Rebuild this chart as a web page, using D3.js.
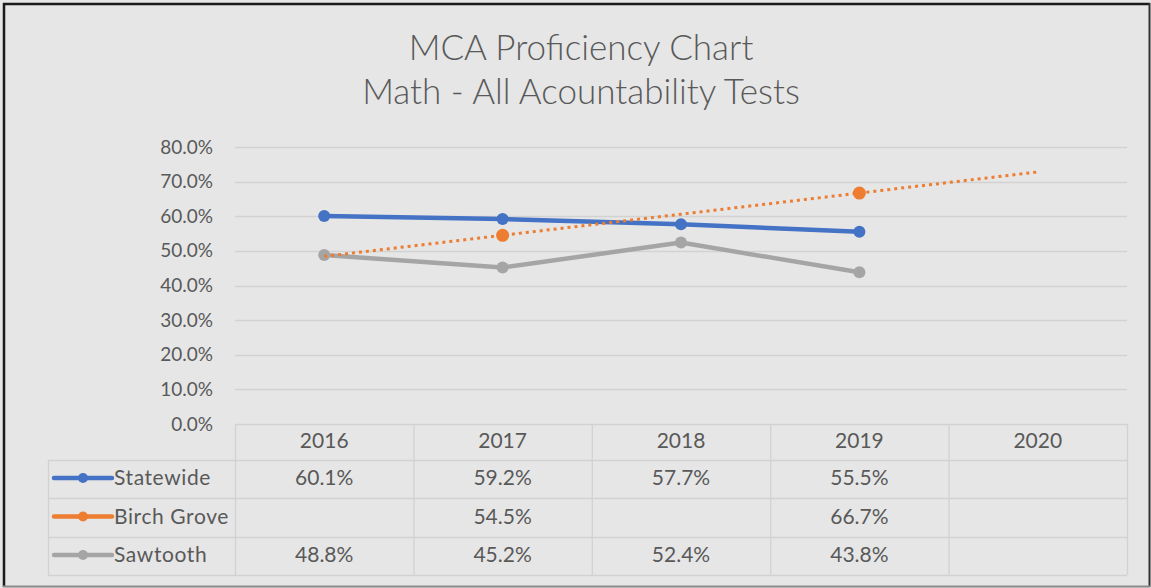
<!DOCTYPE html>
<html>
<head>
<meta charset="utf-8">
<script src="https://cdn.jsdelivr.net/npm/d3@7"></script>
<style>
  html, body { margin: 0; padding: 0; background: #e6e6e6; }
  svg { display: block; }
  text { font-family: Lato, "Open Sans", sans-serif; fill: #595959; }
</style>
</head>
<body>
<svg id="chart" width="1151" height="588"></svg>
<script>
const titleLines = ["MCA Proficiency Chart", "Math - All Acountability Tests"];
const years = ["2016", "2017", "2018", "2019", "2020"];
const seriesNames = ["Statewide", "Birch Grove", "Sawtooth"];
const statewide = [0.601, 0.592, 0.577, 0.555, null];
const birchGrove = [null, 0.545, null, 0.667, null];
const sawtooth = [0.488, 0.452, 0.524, 0.438, null];
const yTicks = [0, 0.1, 0.2, 0.3, 0.4, 0.5, 0.6, 0.7, 0.8];
const colors = ["#4472C4", "#ED7D31", "#A5A5A5"];

const seriesValues = [statewide, birchGrove, sawtooth];
const svg = d3.select("#chart");
const W = 1151, H = 588;

svg.append("rect").attr("x", 0).attr("y", 0).attr("width", W).attr("height", H).attr("fill", "#e6e6e6");

// frame
svg.append("line").attr("x1", 4).attr("y1", 3).attr("x2", 4).attr("y2", 587).attr("stroke", "#1a1a1a").attr("stroke-width", 2.5);
svg.append("line").attr("x1", 3).attr("y1", 4).attr("x2", 1150).attr("y2", 4).attr("stroke", "#1a1a1a").attr("stroke-width", 2.5);
svg.append("line").attr("x1", 1149.5).attr("y1", 3).attr("x2", 1149.5).attr("y2", 587).attr("stroke", "#333").attr("stroke-width", 2);
svg.append("line").attr("x1", 3).attr("y1", 586.5).attr("x2", 1150).attr("y2", 586.5).attr("stroke", "#8a8a8a").attr("stroke-width", 2);

// title
svg.selectAll("text.title").data(titleLines).join("text")
  .attr("class", "title")
  .attr("x", 581).attr("y", (d, i) => 60 + i * 44)
  .attr("text-anchor", "middle")
  .style("font-size", "35px").style("font-weight", 300)
  .text(d => d);

const x = d3.scaleBand().domain(years).range([235, 1127]).paddingInner(0).paddingOuter(0);
const y = d3.scaleLinear().domain([0, 0.8]).range([424, 147]);
const cx = d => x(d) + x.bandwidth() / 2;

// gridlines
svg.append("g").selectAll("line").data(yTicks.slice(1)).join("line")
  .attr("x1", 235).attr("x2", 1127)
  .attr("y1", d => Math.round(y(d)) + 0.5).attr("y2", d => Math.round(y(d)) + 0.5)
  .attr("stroke", "#d2d2d2").attr("stroke-width", 1.3);

// y axis labels
const yAxis = d3.axisLeft(y).tickValues(yTicks).tickFormat(d3.format(".1%")).tickSize(0).tickPadding(0);
const yg = svg.append("g").attr("transform", "translate(213,0)").call(yAxis);
yg.select(".domain").remove();
yg.selectAll("text").style("font-size", "19px").style("font-family", "Lato, 'Open Sans', sans-serif").attr("fill", "#595959");

// data table
const tableLines = svg.append("g").attr("stroke", "#d2d2d2").attr("stroke-width", 1.3);
const rowY = [424, 460, 498, 537, 575];
tableLines.append("line").attr("x1", 235).attr("x2", 1127).attr("y1", rowY[0] + 0.5).attr("y2", rowY[0] + 0.5);
rowY.slice(1).forEach(ry => {
  tableLines.append("line").attr("x1", 48).attr("x2", 1127).attr("y1", ry + 0.5).attr("y2", ry + 0.5);
});
years.forEach(yr => {
  tableLines.append("line").attr("x1", x(yr) + 0.5).attr("x2", x(yr) + 0.5).attr("y1", 424).attr("y2", 575);
});
tableLines.append("line").attr("x1", 1127.5).attr("x2", 1127.5).attr("y1", 424).attr("y2", 575);
tableLines.append("line").attr("x1", 48.5).attr("x2", 48.5).attr("y1", 460).attr("y2", 575);

// header (x axis)
const xAxis = d3.axisBottom(x).tickSize(0).tickPadding(0);
const xg = svg.append("g").attr("transform", "translate(0,441)").call(xAxis);
xg.select(".domain").remove();
xg.selectAll("text").attr("dy", "0.32em").style("font-size", "21px").style("font-family", "Lato, 'Open Sans', sans-serif").attr("fill", "#595959");

const fmt = d3.format(".1%");
seriesNames.forEach((name, si) => {
  const cy = (rowY[si + 1] + rowY[si + 2]) / 2 - 1;
  const lg = svg.append("g");
  lg.append("line").attr("x1", 54).attr("x2", 112).attr("y1", cy).attr("y2", cy)
    .attr("stroke", colors[si]).attr("stroke-width", 4.5).attr("stroke-linecap", "round");
  lg.append("circle").attr("cx", 83).attr("cy", cy).attr("r", 5).attr("fill", colors[si]);
  lg.append("text").attr("x", 114).attr("y", cy).attr("dy", "0.35em")
    .style("font-size", "21px").style("letter-spacing", "0.6px").text(name);
  svg.append("g").selectAll("text").data(seriesValues[si].map((v, i) => ({v, yr: years[i]})).filter(d => d.v != null))
    .join("text")
    .attr("x", d => cx(d.yr)).attr("y", cy).attr("dy", "0.35em")
    .attr("text-anchor", "middle").style("font-size", "21px")
    .text(d => fmt(d.v));
});

// series lines & markers
const line = d3.line().defined(d => d.v != null).x(d => cx(d.yr)).y(d => y(d.v));
seriesValues.forEach((vals, si) => {
  const pts = vals.map((v, i) => ({v, yr: years[i]}));
  svg.append("path").datum(pts).attr("d", line).attr("fill", "none")
    .attr("stroke", colors[si]).attr("stroke-width", 4.5).attr("stroke-linejoin", "round");
  svg.append("g").selectAll("circle").data(pts.filter(d => d.v != null)).join("circle")
    .attr("cx", d => cx(d.yr)).attr("cy", d => y(d.v)).attr("r", si === 1 ? 6.5 : 6)
    .attr("fill", colors[si]);
});

// linear trendline for Birch Grove
const known = birchGrove.map((v, i) => ({i, v})).filter(d => d.v != null);
const mx = d3.mean(known, d => d.i), my = d3.mean(known, d => d.v);
const slope = d3.sum(known, d => (d.i - mx) * (d.v - my)) / d3.sum(known, d => (d.i - mx) ** 2);
const icpt = my - slope * mx;
const trend = years.map((yr, i) => ({yr, v: icpt + slope * i}));
svg.append("path").datum(trend).attr("d", d3.line().x(d => cx(d.yr)).y(d => y(d.v)))
  .attr("fill", "none").attr("stroke", colors[1]).attr("stroke-width", 3)
  .attr("stroke-dasharray", "3,4");
</script>
</body>
</html>
